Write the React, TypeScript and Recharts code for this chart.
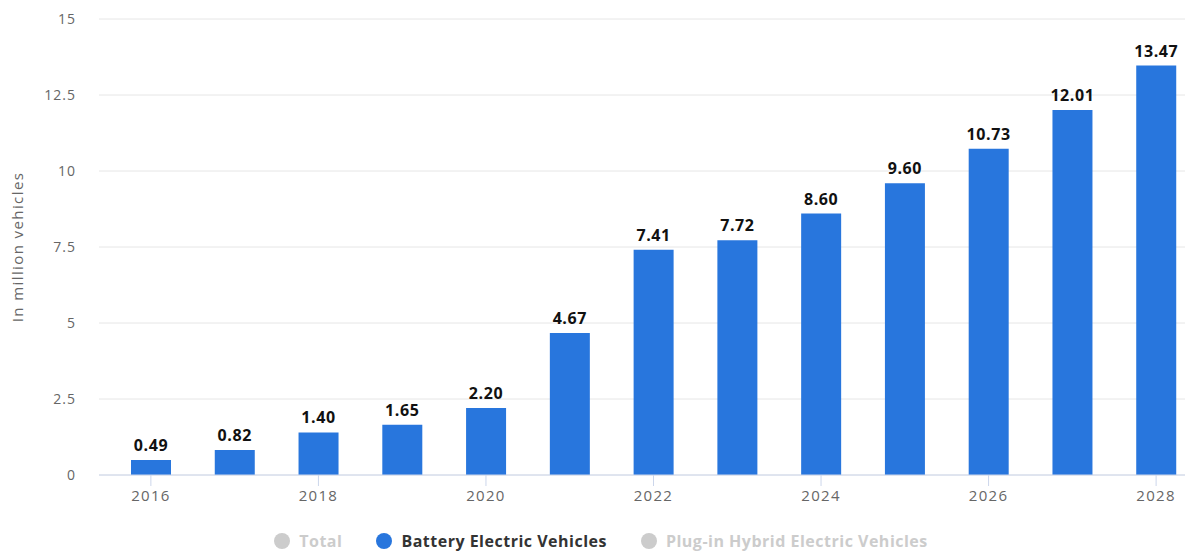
import React from "react";
import {
  BarChart,
  Bar,
  XAxis,
  YAxis,
  CartesianGrid,
  Legend,
  LabelList,
} from "recharts";

const years = ["2016", "2017", "2018", "2019", "2020", "2021", "2022", "2023", "2024", "2025", "2026", "2027", "2028"];
const bevSales = [0.49, 0.82, 1.4, 1.65, 2.2, 4.67, 7.41, 7.72, 8.6, 9.6, 10.73, 12.01, 13.47];
const yTicks = [0, 2.5, 5, 7.5, 10, 12.5, 15];
const legendItems = [
  { name: "Total", dot: "#cccccc", text: "#cccccc" },
  { name: "Battery Electric Vehicles", dot: "#2876dd", text: "#333333" },
  { name: "Plug-in Hybrid Electric Vehicles", dot: "#cccccc", text: "#cccccc" },
];

const data = years.map((year, i) => ({ year, bev: bevSales[i] }));

const font = "'Open Sans', 'DejaVu Sans', sans-serif";

const renderLegend = () => (
  <div
    style={{
      display: "flex",
      justifyContent: "center",
      alignItems: "center",
      paddingTop: 10,
      paddingLeft: 4,
      fontFamily: font,
      fontSize: 16,
      lineHeight: "16px",
      fontWeight: 700,
      letterSpacing: 0.5,
    }}
  >
    {legendItems.map((item) => (
      <div key={item.name} style={{ display: "flex", alignItems: "center", margin: "0 17px" }}>
        <span
          style={{
            width: 16,
            height: 16,
            borderRadius: "50%",
            background: item.dot,
            marginRight: 9,
            display: "inline-block",
          }}
        />
        <span style={{ color: item.text }}>{item.name}</span>
      </div>
    ))}
  </div>
);

const App: React.FC = () => {
  return (
    <div style={{ position: "absolute", left: 0, top: 0, width: 1185, height: 553, overflow: "hidden", background: "#fff" }}>
      <BarChart
        width={1198}
        height={553}
        data={data}
        margin={{ top: 19, right: 0, left: 0, bottom: 0 }}
      >
        <CartesianGrid vertical={false} stroke="#e6e6e6" />
        <XAxis
          dataKey="year"
          interval={1}
          padding={{ left: 10, right: 0 }}
          height={48}
          tickSize={11}
          tickMargin={4}
          stroke="#ccd6eb"
          tick={{ fill: "#666666", fontSize: 15, fontFamily: font, letterSpacing: 1.3 }}
        />
        <YAxis
          width={99}
          domain={[0, 15]}
          ticks={yTicks}
          axisLine={false}
          tickLine={false}
          tickSize={0}
          tickMargin={23}
          tick={{ fill: "#666666", fontSize: 14, fontFamily: font, letterSpacing: 1 }}
          label={{
            value: "In million vehicles",
            angle: -90,
            position: "insideLeft",
            offset: 18,
            style: { textAnchor: "middle", fill: "#666666", fontSize: 15, fontFamily: font, letterSpacing: 1.4 },
          }}
        />
        <Legend verticalAlign="bottom" height={30} content={renderLegend} />
        <Bar dataKey="bev" fill="#2876dd" barSize={40} isAnimationActive={false}>
          <LabelList
            dataKey="bev"
            position="top"
            offset={9}
            formatter={(v: any) => Number(v).toFixed(2)}
            style={{ fill: "#111111", fontSize: 16, fontWeight: 700, fontFamily: font, letterSpacing: 0.6 }}
          />
        </Bar>
      </BarChart>
    </div>
  );
};

export default App;
